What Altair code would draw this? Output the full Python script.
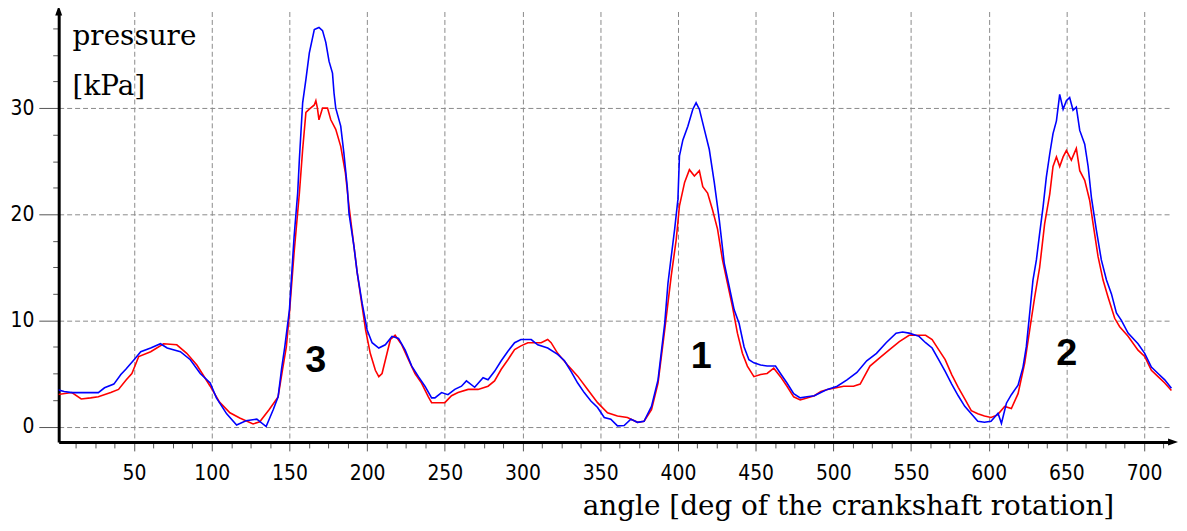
import altair as alt
import pandas as pd

# ---- data ----
blue_angle = [0, 5, 10, 20, 27, 31, 37, 41.5, 44.7, 50, 54.3, 60.7, 67, 71.3, 79.8, 86.2, 92.6, 99, 103,
              109.6, 116, 122, 129, 135, 139.6, 142.7, 145, 147, 150, 153, 155.3, 156.4, 158.5, 160.6,
              162.8, 166, 169, 171.3, 173.4, 175.5, 177.7, 178.7, 179.8, 183, 185, 187.2, 188.3, 191.5,
              193.6, 196.8, 200, 203.2, 207.5, 211.7, 216, 220.2, 224.5, 228.7, 233, 237.2, 241.5, 243.6,
              247.9, 252, 256.4, 260.7, 263.9, 269.2, 274.6, 277.8, 282, 286.3, 290.6, 294.9, 299, 305.6,
              309.8, 316.2, 322.6, 327, 331.2, 335.5, 339.7, 344, 348.3, 352.6, 356.8, 361.1, 365.4, 369.7,
              374, 378.2, 383, 387.2, 391.5, 393.6, 395.7, 397.9, 400, 401, 403.2, 406.4, 409.6, 411.7,
              413.8, 417, 420.2, 423.4, 426.6, 429.8, 433, 436.2, 439.4, 442.6, 445.7, 448.9, 453.2, 457.4,
              462.8, 466, 470.2, 474.5, 478.7, 483, 487.8, 492, 496.2, 502.5, 508.8, 515.2, 521.5, 527.8,
              534, 540.4, 544.6, 548.8, 555.2, 559.4, 563.6, 567.8, 572, 576.2, 580.4, 584.6, 588.8, 593,
              597.3, 601.5, 606, 608.2, 611.4, 614.6, 618.9, 622.1, 624.2, 626.4, 628.5, 630.7, 632.8, 635,
              637.1, 639.3, 641.4, 643.6, 645.7, 647.9, 650, 652.1, 654.3, 656.4, 658.6, 661.8, 664, 666.1,
              669.3, 672.5, 675.8, 679, 682.2, 685.4, 689.7, 696.1, 700.4, 704.7, 709, 713.3, 717.6]
blue_kpa = [3.5, 3.3, 3.2, 3.2, 3.2, 3.65, 4.0, 4.9, 5.4, 6.3, 7.05, 7.4, 7.8, 7.4, 7.05, 6.3, 5.0, 4.1, 2.7,
            1.2, 0.15, 0.55, 0.7, 0.0, 1.6, 2.8, 5.5, 7.5, 11, 17.9, 22, 25.2, 30.5, 32.7,
            35.2, 37.4, 37.6, 37.3, 36.2, 34.4, 33.3, 31.4, 30, 28.3, 25.8, 22.6, 20.1, 17,
            14.5, 11.6, 9.1, 7.9, 7.4, 7.7, 8.5, 8.3, 7.2, 5.7, 4.7, 3.8, 2.7, 2.7,
            3.2, 3.0, 3.5, 3.8, 4.3, 3.7, 4.6, 4.4, 5.2, 6.2, 7.1, 7.9, 8.2, 8.2,
            7.7, 7.4, 6.8, 6.2, 5.2, 4.1, 3.2, 2.4, 1.8, 0.85, 0.7, 0.06, 0.1, 0.7,
            0.4, 0.5, 1.9, 4.4, 9.7, 13.5, 16, 18.6, 21.4, 25.5, 27, 28.3, 29.9, 30.5,
            29.9, 28, 26.1, 23, 19.5, 15.4, 13.2, 11, 9.7, 7.5, 6.3, 6.0, 5.8, 5.7,
            5.7, 5.0, 4.1, 3.1, 2.7, 2.8, 2.9, 3.2, 3.5, 3.8, 4.4, 5.1, 6.2, 6.9,
            7.9, 8.8, 8.9, 8.8, 8.5, 7.9, 7.4, 6.3, 5.2, 4.0, 2.9, 1.9, 1.2, 0.5,
            0.4, 0.5, 1.25, 0.3, 2.2, 3.0, 3.9, 5.6, 7.5, 10.7, 13.8, 15.7, 18.2, 20.7,
            23.5, 25.7, 27.6, 28.8, 31.3, 29.9, 30.7, 31, 29.8, 30.1, 27.9, 26.6, 24.5, 21.6,
            18.5, 15.7, 13.8, 12.5, 10.7, 10.0, 8.8, 7.8, 6.9, 5.6, 5.0, 4.4, 3.6]

red_angle = [0, 10, 16, 22, 27, 35, 40, 45, 48.6, 53, 60.7, 69, 77.5, 83.9, 90.4, 99, 105, 111.7, 118,
             126.6, 130.9, 137, 142.7, 145.7, 148, 150, 153, 156.4, 158.5, 160.6, 162.8, 166, 167, 168,
             169, 171.3, 174.5, 176.6, 179.8, 183, 186, 188.3, 191.5, 193.6, 196.8, 199, 202, 205.3,
             207.5, 209.6, 212.8, 215, 218, 222.3, 226.6, 230.8, 235, 239.4, 241.5, 245.7, 250, 254.3,
             258.5, 265, 271.4, 277.8, 282, 286.3, 290.6, 294.9, 299, 303.4, 307.7, 312, 316.2, 318.4,
             322.6, 329, 335.5, 341.9, 348.3, 354.7, 361.1, 367.5, 374, 378.2, 383, 387.2, 391.5, 395.7,
             398.9, 401, 404.3, 407.4, 410.6, 413.8, 416, 419.1, 422.3, 425.5, 428.7, 431.9, 435.1,
             438.3, 441.5, 444.7, 448.9, 453.2, 457.4, 461.7, 466, 470.2, 474.5, 478.7, 483, 487.8, 492,
             496.2, 506.7, 513, 517.3, 523.6, 530, 536.2, 542.5, 548.8, 555.2, 559.4, 563.6, 567.8, 572,
             576.2, 580.4, 584.6, 588.8, 593, 597.3, 601.5, 605.7, 610.3, 614.6, 618.9, 623.2, 626.4,
             629.6, 632.8, 636, 639.3, 641.4, 643.6, 645.7, 647.9, 650, 653.2, 656.4, 658.6, 661.8, 665,
             667.2, 670.4, 673.6, 676.8, 681.1, 684.3, 689.7, 696.1, 700.4, 704.7, 709, 713.3, 717.6]
red_kpa = [3.0, 3.2, 2.6, 2.7, 2.8, 3.2, 3.5, 4.4, 5.0, 6.6, 7.05, 7.8, 7.7, 6.9, 5.8, 3.8, 2.3, 1.3, 0.8,
           0.25, 0.45, 1.6, 2.8, 5.5, 7.5, 10.7, 16.4, 22, 26.1, 29.6, 29.9, 30.3, 30.7, 30.0,
           28.9, 30, 30, 28.9, 28, 26.4, 23.9, 20.8, 17, 14.5, 11.3, 9.1, 6.9, 5.3,
           4.7, 5.0, 6.9, 8.2, 8.6, 7.7, 6.3, 5.0, 4.1, 2.8, 2.25, 2.25, 2.25, 2.9,
           3.2, 3.5, 3.5, 3.8, 4.3, 5.4, 6.3, 7.25, 7.6, 7.9, 7.9, 7.9, 8.2, 7.9,
           6.9, 5.8, 4.75, 3.5, 2.25, 1.3, 1.0, 0.85, 0.4, 0.5, 1.6, 4.1, 9.1, 14.2,
           17.6, 20.8, 23, 24.2, 23.6, 24.1, 22.6, 22, 20.4, 18.6, 15.7, 13.5, 11.3,
           8.8, 6.9, 5.7, 4.7, 4.9, 5.0, 5.5, 4.7, 3.8, 2.8, 2.5, 2.7, 2.9, 3.3,
           3.5, 3.8, 3.8, 4.0, 5.7, 6.5, 7.25, 8.0, 8.6, 8.6, 8.6, 8.2, 7.25, 6.3,
           4.9, 3.7, 2.6, 1.5, 1.2, 1.0, 0.85, 1.1, 1.9, 1.7, 3.1, 6.0, 9.1,
           12.2, 15, 19.1, 21.9, 24.5, 25.4, 24.5, 25.4, 26, 25.1, 26.2, 24.1, 23.2, 21.3,
           19.1, 16, 13.8, 12.2, 10.2, 9.4, 8.5, 7.2, 6.6, 5.3, 4.7, 4.1, 3.4]

peak_labels = ["3", "1", "2"]
peak_angle = [167, 415, 650.2]
peak_kpa = [6.2, 6.5, 6.8]

y_title_lines = ["pressure", "[kPa]"]
y_title_angle = [10.4, 10.4]
y_title_kpa = [35.9, 31.2]

x_title = "angle [deg of the crankshaft rotation]"
x_title_angle = [680.8]
x_title_kpa = [-8.3]

X_MIN, X_MAX = 1.5, 718
Y_MIN, Y_MAX = -1.45, 39.1

x_ticks = [12.5 * i for i in range(1, 58)]
y_ticks = [2.5 * i for i in range(0, 16)]

TICK_FONT = "Liberation Sans Narrow, DejaVu Sans Condensed, Liberation Sans, sans-serif"
SERIF = "DejaVu Serif, Liberation Serif, serif"

xs = alt.Scale(domain=[X_MIN, X_MAX], nice=False, zero=False)
ys = alt.Scale(domain=[Y_MIN, Y_MAX], nice=False, zero=False)

x_axis = alt.Axis(
    values=x_ticks, tickCount=500, title=None,
    labelExpr="datum.value % 50 === 0 ? datum.value : ''",
    labelFont=TICK_FONT, labelFontSize=21, labelColor="black", labelPadding=12,
    tickSize={"condition": {"test": "datum.value % 50 === 0", "value": 9}, "value": 6},
    tickColor="#555555", tickWidth=1,
    grid=True, gridDash=[5, 3], gridColor="#8a8a8a", gridWidth=1,
    gridOpacity={"condition": {"test": "datum.value % 50 === 0", "value": 1}, "value": 0},
    domainColor="black", domainWidth=3, labelFlush=False, labelOverlap=False,
)
y_axis = alt.Axis(
    values=y_ticks, tickCount=500, title=None,
    labelExpr="datum.value % 10 === 0 ? datum.value : ''",
    labelFont=TICK_FONT, labelFontSize=21, labelColor="black", labelPadding=5,
    tickSize={"condition": {"test": "datum.value % 10 === 0", "value": 20}, "value": 6},
    tickColor="#555555", tickWidth=1,
    grid=True, gridDash=[5, 3], gridColor="#8a8a8a", gridWidth=1,
    gridOpacity={"condition": {"test": "datum.value % 10 === 0", "value": 1}, "value": 0},
    domainColor="black", domainWidth=3, labelFlush=False, labelOverlap=False,
)

red_df = pd.DataFrame({"angle": red_angle, "kpa": red_kpa})
blue_df = pd.DataFrame({"angle": blue_angle, "kpa": blue_kpa})

red_line = alt.Chart(red_df).mark_line(color="#ff0000", strokeWidth=1.6, clip=True).encode(
    x=alt.X("angle:Q", scale=xs, axis=x_axis),
    y=alt.Y("kpa:Q", scale=ys, axis=y_axis),
)
blue_line = alt.Chart(blue_df).mark_line(color="#0000ff", strokeWidth=1.6, clip=True).encode(
    x=alt.X("angle:Q", scale=xs),
    y=alt.Y("kpa:Q", scale=ys),
)

peaks = alt.Chart(pd.DataFrame({"t": peak_labels, "a": peak_angle, "p": peak_kpa})).mark_text(
    font="Liberation Sans Narrow, Liberation Sans, sans-serif", fontSize=38, fontWeight="bold",
    color="black", align="center", baseline="middle"
).encode(x=alt.X("a:Q", scale=xs), y=alt.Y("p:Q", scale=ys), text="t:N")

ytitle = alt.Chart(pd.DataFrame({"t": y_title_lines, "a": y_title_angle, "p": y_title_kpa})).mark_text(
    font=SERIF, fontSize=28, color="black", align="left", baseline="alphabetic"
).encode(x=alt.X("a:Q", scale=xs), y=alt.Y("p:Q", scale=ys), text="t:N")

xtitle = alt.Chart(pd.DataFrame({"t": [x_title], "a": x_title_angle, "p": x_title_kpa})).mark_text(
    font=SERIF, fontSize=28, color="black", align="right", baseline="alphabetic"
).encode(x=alt.X("a:Q", scale=xs), y=alt.Y("p:Q", scale=ys), text="t:N")

arrow_up = alt.Chart(pd.DataFrame({"a": [X_MIN], "p": [Y_MAX]})).mark_point(
    shape="M0,-1.2L0.7,0.8L-0.7,0.8Z", size=100, filled=True, color="black", opacity=1
).encode(x=alt.X("a:Q", scale=xs), y=alt.Y("p:Q", scale=ys))

arrow_right = alt.Chart(pd.DataFrame({"a": [X_MAX], "p": [Y_MIN]})).mark_point(
    shape="M1.2,0L-0.8,-0.7L-0.8,0.7Z", size=100, filled=True, color="black", opacity=1
).encode(x=alt.X("a:Q", scale=xs), y=alt.Y("p:Q", scale=ys))

chart = alt.layer(red_line, blue_line, peaks, ytitle, xtitle, arrow_up, arrow_right).properties(
    width=1120, height=433,
    autosize=alt.AutoSizeParams(type="none"),
    padding={"left": 51, "top": 2, "right": 7, "bottom": 80},
    background="white",
).configure_view(stroke=None)

chart.save("out.html", embed_options={"renderer": "svg", "actions": False})
